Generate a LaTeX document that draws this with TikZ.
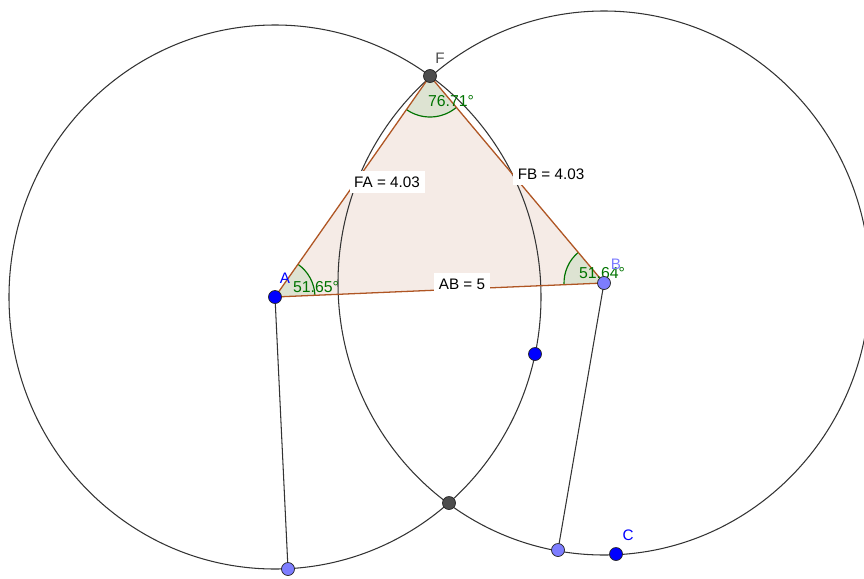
\documentclass[tikz,border=0pt]{standalone}
\usepackage{fontspec}
\setmainfont{Liberation Sans}
\definecolor{ptblue}{RGB}{0,0,255}
\definecolor{ptlight}{RGB}{125,125,255}
\definecolor{ptgray}{RGB}{77,77,77}
\definecolor{polyedge}{RGB}{175,85,35}
\definecolor{polyfill}{RGB}{245,235,230}
\definecolor{anglegreen}{RGB}{0,115,0}
\definecolor{anglefill}{RGB}{221,227,210}

\begin{document}
\begin{tikzpicture}[
    x=0.03cm, y=0.03cm,
    every node/.style={font=\fontsize{13}{15}\selectfont},
    dot/.style={circle, draw=black!85, line width=0.6pt, inner sep=0pt, minimum size=0.39cm},
    circ/.style={draw=black!80, line width=0.9pt},
    edge/.style={draw=polyedge, line width=1.1pt},
    seglabel/.style={fill=white, inner xsep=4pt, inner ysep=5pt},
    anglabel/.style={text=anglegreen, inner sep=0pt, font=\fontsize{13.5}{15}\selectfont}
  ]
    \useasboundingbox (0,0) rectangle (864,-578);
    \clip (0,0) rectangle (864,-578);
    \coordinate (A) at (275,-297);
    \coordinate (B) at (604,-283);
    \coordinate (F) at (430,-76);
    \coordinate (G) at (449,-503);
    \coordinate (P) at (288,-569);
    \coordinate (Q) at (558,-550);
    \coordinate (C) at (616,-554);
    \coordinate (D) at (535,-354);
    % triangle and its angles
    \fill[polyfill] (A) -- (B) -- (F) -- cycle;
    \fill[anglefill] (A) -- ++(2.44:40) arc[start angle=2.44, end angle=54.96, radius=40] -- cycle;
    \fill[anglefill] (B) -- ++(130.04:40) arc[start angle=130.04, end angle=182.44, radius=40] -- cycle;
    \fill[anglefill] (F) -- ++(-125.04:41) arc[start angle=-125.04, end angle=-49.96, radius=41] -- cycle;
    \draw[anglegreen, line width=1pt] (A) ++(2.44:40) arc[start angle=2.44, end angle=54.96, radius=40];
    \draw[anglegreen, line width=1pt] (B) ++(130.04:40) arc[start angle=130.04, end angle=182.44, radius=40];
    \draw[anglegreen, line width=1pt] (F) ++(-125.04:41) arc[start angle=-125.04, end angle=-49.96, radius=41];
    % circles
    \draw[circ] (A) ellipse [x radius=266, y radius=272];
    \draw[circ] (B) ellipse [x radius=266, y radius=272];
    \draw[edge] (A) -- (B) -- (F) -- cycle;
    \draw[circ] (A) -- (P);
    \draw[circ] (B) -- (Q);
    % labels
    \node[seglabel] (labFA) at (387,-182) {FA = 4.03};
    \node[seglabel] (labFB) at (551,-174) {FB = 4.03};
    \node[seglabel] (labAB) at (462,-284) {AB = 5};
    \node[anglabel] (angF) at (451,-101) {76.71°};
    \node[anglabel] (angA) at (316,-287) {51.65°};
    \node[anglabel] (angB) at (602,-273) {51.64°};
    \node[text=ptblue, inner sep=0pt] (labA) at (285,-278) {A};
    \node[text=ptlight, inner sep=0pt] (labB) at (616,-264) {B};
    \node[text=ptgray, inner sep=0pt] (labF) at (440,-58) {F};
    \node[text=ptblue, inner sep=0pt] (labC) at (628,-535) {C};
    % points
    \node[dot, fill=ptblue] (dotA) at (A) {};
    \node[dot, fill=ptlight] (dotB) at (B) {};
    \node[dot, fill=ptgray] (dotF) at (F) {};
    \node[dot, fill=ptgray] (dotG) at (G) {};
    \node[dot, fill=ptlight] (dotP) at (P) {};
    \node[dot, fill=ptlight] (dotQ) at (Q) {};
    \node[dot, fill=ptblue] (dotC) at (C) {};
    \node[dot, fill=ptblue] (dotD) at (D) {};
\end{tikzpicture}
\end{document}
